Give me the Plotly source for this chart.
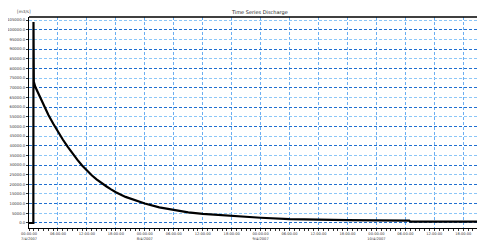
import plotly.graph_objects as go
from datetime import datetime, timedelta

start = datetime(2007, 4, 7, 0, 0, 0)
hours = [0, 0.9, 0.93, 0.97, 1.0, 1.3, 2.0, 3.0, 4.0, 5.0, 6.0, 7.0, 8.0, 9.0,
         10.0, 11.0, 12.0, 13.0, 14.0, 15.0, 16.0, 17.0, 18.0, 20.0, 22.0, 24.0, 27.0,
         30.0, 33.0, 36.0, 42.0, 48.0, 54.0, 60.0, 66.0, 72.0, 78.8, 79.0, 94.5]
discharge = [0, 0, 104000, 76000, 73000, 70500, 66500, 61000, 56000, 51500, 47200, 43200,
             39500, 36000, 32800, 29800, 27000, 24700, 22600, 20700, 19000, 17400, 15900,
             13500, 11600, 10100, 8100, 6600, 5500, 4700, 3600, 2700, 2000, 1600, 1450,
             1350, 1250, 700, 650]
y_ticks = list(range(0, 105001, 5000))
y_major = list(range(0, 105001, 10000))
x_tick_hours = list(range(0, 96, 6))
dates = ["7/4/2007", "8/4/2007", "9/4/2007", "10/4/2007"]

times = [start + timedelta(hours=h) for h in hours]
xt = [start + timedelta(hours=h) for h in x_tick_hours]
xtext = []
for h in x_tick_hours:
    t = (start + timedelta(hours=h)).strftime("%H:%M:%S")
    if h % 24 == 0:
        t += "<br>" + dates[h // 24]
    xtext.append(t)

x_end = start + timedelta(hours=94.5)
yr = [-2600, 106600]

fig = go.Figure()
fig.add_trace(go.Scatter(x=times, y=discharge, mode="lines",
                         line=dict(color="black", width=2.2), showlegend=False))
fig.add_trace(go.Scatter(x=[start], y=[None], yaxis="y2", showlegend=False,
                         hoverinfo="skip"))

fig.update_layout(
    width=477, height=232,
    margin=dict(l=21, r=0, t=9, b=12),
    paper_bgcolor="white", plot_bgcolor="white",
    font=dict(family="DejaVu Sans", color="#333", size=4),
    title=dict(text="Time Series Discharge", x=0.528, xanchor="center", y=0.98,
               yanchor="middle", font=dict(size=5, color="#222")),
    xaxis=dict(range=[start, x_end], tickvals=xt, ticktext=xtext, automargin=False,
               showgrid=True, gridcolor="#6aaef2", griddash="3px,2px", gridwidth=1,
               showline=True, linecolor="black", linewidth=1, mirror=False,
               ticks="outside", ticklen=2, tickcolor="#333",
               minor=dict(dtick=3600000, ticks="outside", ticklen=2, tickcolor="#333"),
               tickfont=dict(size=3.6), zeroline=False),
    yaxis=dict(range=yr, tickvals=y_ticks, ticktext=[f"{v:.1f}" for v in y_ticks],
               automargin=False,
               showgrid=True, gridcolor="#8cc6f7", griddash="3px,2px", gridwidth=1,
               showline=True, linecolor="black", linewidth=1,
               ticks="outside", ticklen=2, tickcolor="#333",
               tickfont=dict(size=3.8), zeroline=False),
    yaxis2=dict(range=yr, overlaying="y", tickvals=y_major, showticklabels=False,
                automargin=False,
                showgrid=True, gridcolor="#1f6fd0", griddash="3px,2px", gridwidth=1,
                zeroline=False, showline=False),
    shapes=[dict(type="line", xref="paper", yref="paper", x0=0, x1=1, y0=1, y1=1,
                 line=dict(color="black", width=1.5))],
    annotations=[dict(text="[m3/s]", xref="paper", yref="paper", x=-0.031, y=1.028,
                      xanchor="left", yanchor="middle", showarrow=False,
                      font=dict(size=4.2, color="#444"))],
)
fig.write_html("out.html")
